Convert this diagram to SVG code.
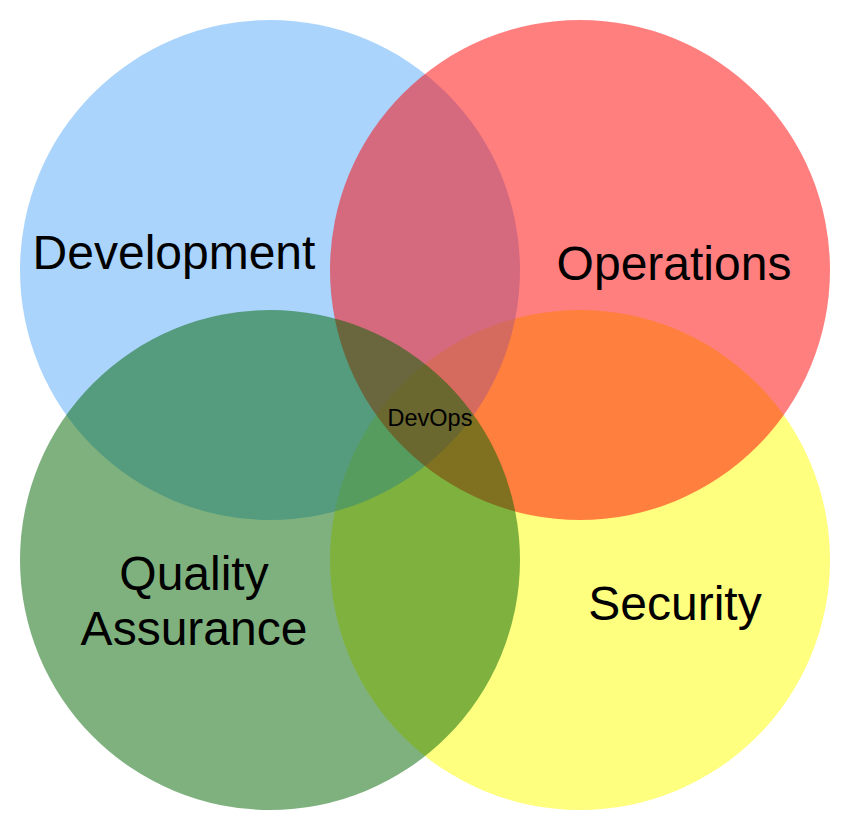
<svg xmlns="http://www.w3.org/2000/svg" width="851" height="832" viewBox="0 0 851 832">
  <style>
    .set { fill-opacity: 0.5; stroke: none; }
    .label { font-family: "Liberation Sans", Arial, Helvetica, sans-serif; fill: #000; text-anchor: middle; }
    .big { font-size: 48px; }
    .small { font-size: 23.5px; }
  </style>
  <rect width="851" height="832" fill="#ffffff"/>
  <!-- stacking order: Security, Development, Operations, Quality Assurance -->
  <g id="security">
    <circle class="set" cx="580" cy="560" r="250" fill="#ffff00"/>
  </g>
  <g id="development">
    <circle class="set" cx="270" cy="270" r="250" fill="#55aaf9"/>
  </g>
  <g id="operations">
    <circle class="set" cx="580" cy="270" r="250" fill="#ff0000"/>
  </g>
  <g id="quality-assurance">
    <circle class="set" cx="270" cy="560" r="250" fill="#006400"/>
  </g>
  <g id="labels">
    <text class="label big" x="174" y="269">Development</text>
    <text class="label big" x="674" y="280">Operations</text>
    <text class="label big" x="194" y="590">Quality</text>
    <text class="label big" x="194" y="645">Assurance</text>
    <text class="label big" x="675" y="620">Security</text>
  </g>
  <g id="devops">
    <text class="label small" x="430" y="426">DevOps</text>
  </g>
</svg>
